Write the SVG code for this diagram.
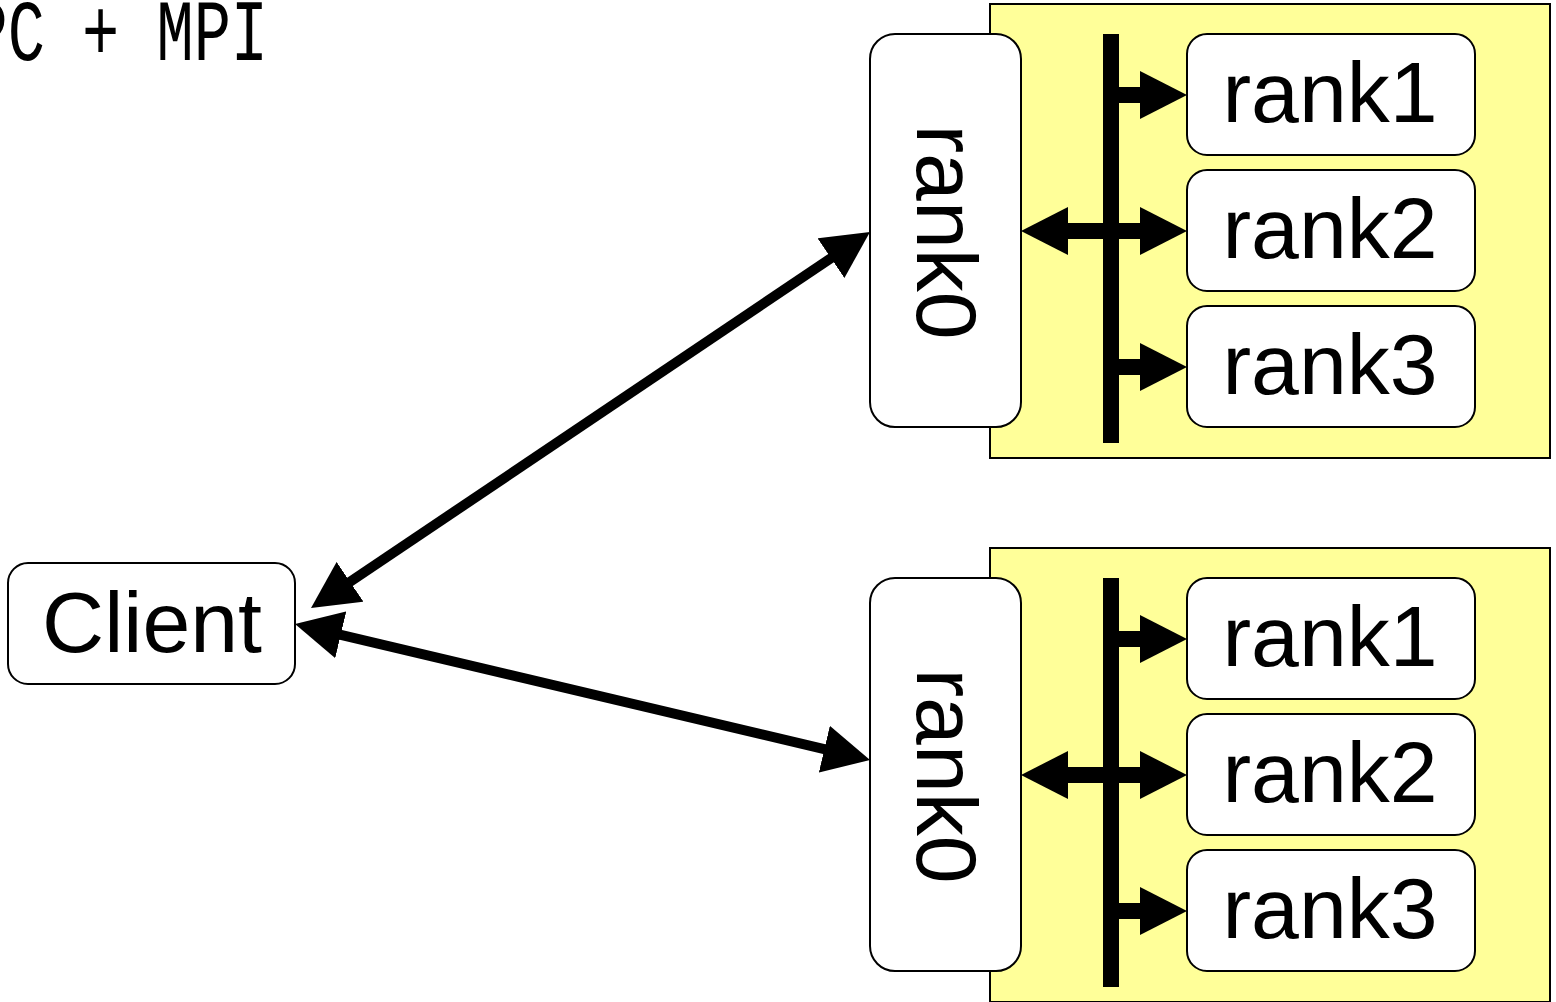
<svg xmlns="http://www.w3.org/2000/svg" width="1556" height="1002" viewBox="0 0 1556 1002">
<style>
.grp{fill:#ffff99;stroke:#000;stroke-width:2}
.box{fill:#fff;stroke:#000;stroke-width:2}
.lbl{font-family:"Liberation Sans",Arial,sans-serif;font-size:86px;fill:#000;text-anchor:middle}
.bus{stroke:#000;stroke-width:16;fill:none}
.bar{stroke:#000;stroke-width:16;fill:none;marker-end:url(#ah)}
.bar2{stroke:#000;stroke-width:16;fill:none;marker-start:url(#ah);marker-end:url(#ah)}
.link{stroke:#000;stroke-width:10;fill:none;marker-start:url(#ah);marker-end:url(#ah)}
.title{font-family:"Liberation Mono","Courier New",monospace;font-size:62px;fill:#000}
</style>
<defs>
<marker id="ah" markerUnits="userSpaceOnUse" viewBox="0 0 47 48" markerWidth="47" markerHeight="48" refX="1" refY="24" orient="auto-start-reverse">
<path d="M0,0 L47,24 L0,48 Z" fill="#000"/>
</marker>
</defs>
<text class="title" transform="translate(-29.5,60) scale(1,1.4)">PC + MPI</text>
<g id="group-top">
<rect class="grp" x="990" y="4" width="560" height="454"/>
</g>
<g id="group-bottom">
<rect class="grp" x="990" y="548" width="560" height="454"/>
</g>
<g id="client">
<rect class="box" x="8" y="563" width="287" height="121" rx="20"/>
<text class="lbl" x="152" y="652">Client</text>
</g>
<g id="top-rank0">
<rect class="box" x="870" y="34" width="151" height="393" rx="25"/>
<text class="lbl" transform="translate(917,232) rotate(90)">rank0</text>
</g>
<g id="top-rank1">
<rect class="box" x="1187" y="34" width="288" height="121" rx="20"/>
<text class="lbl" x="1330" y="122">rank1</text>
</g>
<g id="top-rank2">
<rect class="box" x="1187" y="170" width="288" height="121" rx="20"/>
<text class="lbl" x="1330" y="258">rank2</text>
</g>
<g id="top-rank3">
<rect class="box" x="1187" y="306" width="288" height="121" rx="20"/>
<text class="lbl" x="1330" y="394">rank3</text>
</g>
<g id="bottom-rank0">
<rect class="box" x="870" y="578" width="151" height="393" rx="25"/>
<text class="lbl" transform="translate(917,776) rotate(90)">rank0</text>
</g>
<g id="bottom-rank1">
<rect class="box" x="1187" y="578" width="288" height="121" rx="20"/>
<text class="lbl" x="1330" y="666">rank1</text>
</g>
<g id="bottom-rank2">
<rect class="box" x="1187" y="714" width="288" height="121" rx="20"/>
<text class="lbl" x="1330" y="802">rank2</text>
</g>
<g id="bottom-rank3">
<rect class="box" x="1187" y="850" width="288" height="121" rx="20"/>
<text class="lbl" x="1330" y="938">rank3</text>
</g>
<g id="connectors">
<line class="bus" x1="1111" y1="34" x2="1111" y2="443"/>
<line class="bar" x1="1111" y1="95" x2="1141" y2="95"/>
<line class="bar2" x1="1067" y1="231" x2="1141" y2="231"/>
<line class="bar" x1="1111" y1="367" x2="1141" y2="367"/>
<line class="bus" x1="1111" y1="578" x2="1111" y2="987"/>
<line class="bar" x1="1111" y1="639" x2="1141" y2="639"/>
<line class="bar2" x1="1067" y1="775" x2="1141" y2="775"/>
<line class="bar" x1="1111" y1="911" x2="1141" y2="911"/>
<line class="link" x1="349.2" y1="582.4" x2="831.8" y2="257.6"/>
<line class="link" x1="339.8" y1="634.6" x2="825.3" y2="749.4"/>
</g>
</svg>
